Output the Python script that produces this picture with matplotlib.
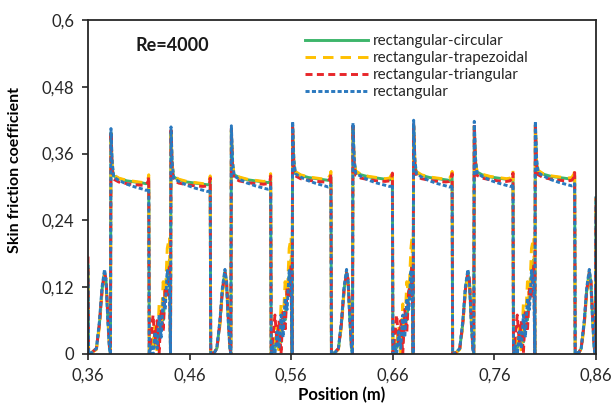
import matplotlib
matplotlib.use("Agg")
import matplotlib.pyplot as plt

# ---------------- data ----------------
series_names = ["rectangular-circular", "rectangular-trapezoidal",
                "rectangular-triangular", "rectangular"]

x_ticks = [0.36, 0.46, 0.56, 0.66, 0.76, 0.86]
x_tick_labels = ["0,36", "0,46", "0,56", "0,66", "0,76", "0,86"]
y_ticks = [0, 0.12, 0.24, 0.36, 0.48, 0.6]
y_tick_labels = ["0", "0,12", "0,24", "0,36", "0,48", "0,6"]

# positions (m) where friction jumps up (rib start) and drops to zero (rib end)
spike_pos = [0.3823, 0.4414, 0.5008, 0.5611, 0.6205, 0.6802, 0.7399, 0.8000, 0.8594]
drop_pos = [0.4200, 0.4805, 0.5400, 0.5993, 0.6598, 0.7186, 0.7785, 0.8392]
# kind of gap before each spike: A = smooth hump, B = noisy recirculation
gap_kind = ["A", "B", "A", "B", "A", "B", "A", "B", "A"]
# plateau level shift per rib
cycle_level = [0.0, -0.002, 0.002, 0.006, 0.007, 0.006, 0.007, 0.008]

# offsets (m) used with the values below
plateau_head_off = [0.0015, 0.003, 0.008, 0.016, 0.024, 0.032]   # after spike
plateau_tail_off = [-0.003, -0.0008, -0.0002]                     # before drop
hump_off = [-0.014, -0.011, -0.0085, -0.006, -0.0045, -0.0028, -0.0012, -0.0002]  # before spike
noise_after_off = [0.0003, 0.002, 0.004, 0.006, 0.008, 0.010, 0.012, 0.014, 0.016, 0.018]
noise_before_off = [-0.0012, -0.0002]

# rectangular-circular (green)
circ_start = 0.16
circ_peaks = [0.398, 0.400, 0.402, 0.408, 0.407, 0.412, 0.410, 0.412]
circ_head = [0.335, 0.320, 0.315, 0.311, 0.309, 0.307]
circ_tail = [0.306, 0.307, 0.308]
circ_hump = [0.010, 0.055, 0.115, 0.148, 0.130, 0.065, 0.012, 0.0]
circ_noise = [0.0, 0.02, 0.01, 0.03, 0.05, 0.02, 0.07, 0.06, 0.11, 0.14, 0.17, 0.0]
circ_end = 0.28

# rectangular-trapezoidal (yellow)
trap_start = 0.15
trap_peaks = [0.395, 0.398, 0.400, 0.405, 0.405, 0.410, 0.408, 0.410]
trap_head = [0.340, 0.322, 0.316, 0.312, 0.310, 0.308]
trap_tail = [0.309, 0.316, 0.322]
trap_hump = [0.008, 0.050, 0.110, 0.140, 0.130, 0.080, 0.020, 0.0]
trap_noise = [0.0, 0.0, 0.02, 0.05, 0.0, 0.09, 0.05, 0.13, 0.10, 0.19, 0.21, 0.0]
trap_end = 0.28

# rectangular-triangular (red)
tri_start = 0.175
tri_peaks = [0.400, 0.402, 0.405, 0.410, 0.410, 0.415, 0.412, 0.414]
tri_head = [0.330, 0.314, 0.309, 0.306, 0.304, 0.303]
tri_tail = [0.304, 0.310, 0.318]
tri_hump = [0.010, 0.055, 0.115, 0.145, 0.135, 0.070, 0.015, 0.0]
tri_noise = [0.0, 0.03, 0.07, 0.02, 0.06, 0.0, 0.08, 0.04, 0.12, 0.10, 0.16, 0.0]
tri_end = 0.28

# rectangular (blue)
rect_start = 0.16
rect_peaks = [0.405, 0.408, 0.410, 0.418, 0.415, 0.420, 0.418, 0.418]
rect_head = [0.345, 0.318, 0.312, 0.305, 0.300, 0.296]
rect_tail = [0.294, 0.295, 0.298]
rect_hump = [0.010, 0.060, 0.120, 0.152, 0.130, 0.060, 0.010, 0.0]
rect_noise = [0.0, 0.015, 0.0, 0.04, 0.01, 0.07, 0.03, 0.10, 0.08, 0.15, 0.12, 0.0]
rect_end = 0.283

x_start, x_end = 0.3600, 0.8600


def build(start, peaks, head, tail, hump, noise, end):
    xs = [x_start, 0.3606, 0.3640]
    ys = [start, 0.0, 0.003]
    for i, s in enumerate(spike_pos):
        if i > 0:
            d = drop_pos[i - 1]
            if gap_kind[i] == "A":
                xs += [d + 0.0003, d + 0.004]
                ys += [0.0, 0.003]
            else:
                xs += [d + o for o in noise_after_off] + [s + o for o in noise_before_off]
                ys += list(noise)
        if gap_kind[i] == "A":
            xs += [s + o for o in hump_off]
            ys += list(hump)
        if i < len(drop_pos):
            lv = cycle_level[i]
            xs += [s + 0.0003] + [s + o for o in plateau_head_off]
            ys += [peaks[i]] + [v + lv for v in head]
            xs += [drop_pos[i] + o for o in plateau_tail_off]
            ys += [v + lv for v in tail]
        else:
            xs += [x_end]
            ys += [end]
    return xs, ys


series = [
    (build(circ_start, circ_peaks, circ_head, circ_tail, circ_hump, circ_noise, circ_end),
     dict(color="#3DB56B", ls="-")),
    (build(trap_start, trap_peaks, trap_head, trap_tail, trap_hump, trap_noise, trap_end),
     dict(color="#FFC000", ls=(0, (3.6, 2.4)))),
    (build(tri_start, tri_peaks, tri_head, tri_tail, tri_hump, tri_noise, tri_end),
     dict(color="#E8262A", ls=(0, (2.4, 1.5)))),
    (build(rect_start, rect_peaks, rect_head, rect_tail, rect_hump, rect_noise, rect_end),
     dict(color="#2A79BF", ls=(0, (1.4, 0.8)))),
]

# ---------------- figure ----------------
plt.rcParams["font.family"] = ["Lato", "DejaVu Sans"]
fig = plt.figure(figsize=(6.11, 4.12), dpi=100)
ax = fig.add_axes([88 / 611, 1 - 354 / 412, (596 - 88) / 611, (354 - 20) / 412])

for name, ((xs, ys), st) in zip(series_names, series):
    ax.plot(xs, ys, lw=2.1, label=name, solid_joinstyle="miter", **st)

ax.set_xlim(0.36, 0.86)
ax.set_ylim(0, 0.6)
ax.set_xticks(x_ticks)
ax.set_xticklabels(x_tick_labels)
ax.set_yticks(y_ticks)
ax.set_yticklabels(y_tick_labels)
ax.tick_params(direction="out", length=4, width=1.2, labelsize=12,
               colors="#262626", pad=6)
for sp in ax.spines.values():
    sp.set_linewidth(1.3)
    sp.set_color("#262626")

ax.set_xlabel("Position (m)", fontsize=12, fontweight="bold", labelpad=2)
ax.set_ylabel("Skin friction coefficient", fontsize=11.5, fontweight="bold")
ax.yaxis.set_label_coords(-0.13, 0.55)

ax.text(0.093, 0.925, "Re=4000", transform=ax.transAxes, fontsize=13,
        fontweight="bold", va="center", ha="left", color="#1a1a1a")

leg = ax.legend(loc="upper left", bbox_to_anchor=(305 / 611, 1 - 34 / 412),
                bbox_transform=fig.transFigure, frameon=False, fontsize=11,
                handlelength=4.1, handletextpad=0.35, labelspacing=0.2,
                borderpad=0, borderaxespad=0)
for t in leg.get_texts():
    t.set_color("#262626")

fig.savefig("out.png", dpi=100)
